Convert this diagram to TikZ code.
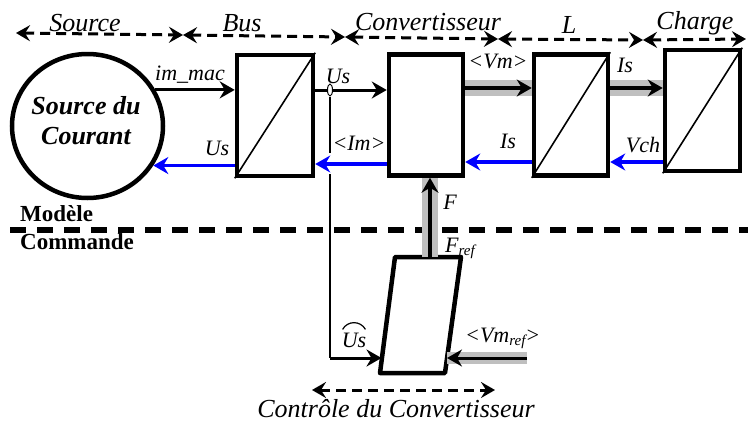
\documentclass[tikz,border=0pt]{standalone}
\usepackage{fontspec}
\setmainfont{Liberation Serif}
\usetikzlibrary{arrows.meta,shapes.geometric,calc}
\newcommand\lowsub[1]{\raisebox{-0.35ex}{\fontsize{15}{15}\selectfont #1}}
\begin{document}
\begin{tikzpicture}[x=1pt,y=-1pt,
  blk/.style={draw,line width=4.5pt,inner sep=0pt,minimum width=75pt,minimum height=121pt},
  diag/.style={line width=1.6pt},
  tip/.style={-{Stealth[length=15pt,width=17pt,inset=5pt]}},
  sig/.style={tip,line width=3pt},
  bsig/.style={tip,line width=3.5pt,blue},
  band/.style={line width=16pt,black!25},
  topdash/.style={dash pattern=on 10pt off 6pt,line width=3pt,
     {Stealth[length=14pt,width=16pt,inset=5pt]}-{Stealth[length=14pt,width=16pt,inset=5pt]}},
  lab/.style={anchor=base,inner sep=0pt,font=\fontsize{22}{22}\selectfont\itshape},
  toplab/.style={anchor=base,inner sep=0pt,font=\fontsize{26}{26}\selectfont\itshape},
  boldlab/.style={anchor=base west,inner sep=0pt,font=\fontsize{23}{23}\selectfont\bfseries}
]
\useasboundingbox (0,0) rectangle (748,426);

% ---------- top dashed ranges ----------
\coordinate (t0) at (16,33);
\coordinate (t1) at (183,35);
\coordinate (t2) at (345,37);
\coordinate (t3) at (498,39);
\coordinate (t4) at (643,40);
\coordinate (t5) at (746,39);
\draw[topdash] (t0) -- (t1);
\draw[topdash] (t1) -- (t2);
\draw[topdash] (t2) -- (t3);
\draw[topdash] (t3) -- (t4);
\draw[topdash] (t4) -- (t5);
\node[toplab] (lsource) at (85,31) {Source};
\node[toplab] (lbus) at (242,31) {Bus};
\node[toplab] (lconv) at (428,30) {Convertisseur};
\node[toplab] (lL) at (569,33) {L};
\node[toplab] (lcharge) at (695,29) {Charge};

% ---------- source ellipse ----------
\node[ellipse,draw,line width=4.5pt,inner sep=0pt,minimum width=151pt,minimum height=144pt] (src) at (87.5,126) {};
\node[align=center,inner sep=0pt,font=\fontsize{26}{30}\selectfont\bfseries\itshape] (srctxt) at (86,121)
      {Source du\\Courant};

% ---------- blocks ----------
\node[blk,minimum width=76pt] (bus) at (275,115.5) {};
\node[blk,minimum width=74pt] (conv) at (426,115) {};
\node[blk,minimum width=74pt] (lblk) at (571,115) {};
\node[blk] (chg) at (702.5,110.5) {};
\draw[diag] (bus.south west) -- (bus.north east);
\draw[diag] (lblk.south west) -- (lblk.north east);
\draw[diag] (chg.south west) -- (chg.north east);

% ---------- control block (slanted) ----------
\coordinate (p1) at (395,257);
\coordinate (p2) at (461,257);
\coordinate (p3) at (445,373);
\coordinate (p4) at (380,373);
\draw[line width=4.5pt,line join=round] (p1) -- (p2) -- (p3) -- (p4) -- cycle;
\coordinate (pin) at (381.5,358);
\coordinate (pvin) at (447,358);
\coordinate (ptop) at (430,257);

% ---------- model / command separator ----------
\coordinate (sepL) at (10,230);
\coordinate (sepR) at (748,230);
\draw[line width=5.5pt,dash pattern=on 16pt off 11pt] (sepL) -- (sepR);
\node[boldlab] (mod) at (20,221) {Modèle};
\node[boldlab] (cmd) at (20,249) {Commande};

% ---------- signals upper ----------
\draw[sig] (src.28) -- (src.28 -| bus.west);
\node[lab] (limmac) at (190,80) {im\_mac};
\draw[bsig] (src.-31 -| bus.west) -- (src.-31);
\node[lab] (lus1) at (217,155) {Us};

\coordinate (ytop) at (0,90);
\draw[sig] (bus.east |- ytop) -- (conv.west |- ytop);
\node[lab] (lus2) at (338,83) {Us};
\node[draw,ellipse,line width=1pt,inner sep=0pt,minimum width=5pt,minimum height=12pt,fill=white] (tap) at (330,90) {};

\coordinate (ybot) at (0,164);
\draw[bsig] (conv.west |- ybot) -- (bus.east |- ybot);
\node[lab] (lim) at (359,150) {<Im>};

\coordinate (yvm) at (0,88);
\draw[band] (conv.east |- yvm) -- (lblk.west |- yvm);
\draw[sig,line width=4pt] (conv.east |- yvm) -- (lblk.west |- yvm);
\node[lab] (lvm) at (498,68) {<Vm>};
\draw[band] (lblk.east |- yvm) -- (chg.west |- yvm);
\draw[sig,line width=4pt] (lblk.east |- yvm) -- (chg.west |- yvm);
\node[lab] (lis1) at (625,72) {Is};

\coordinate (yb2) at (0,162);
\draw[bsig] (lblk.west |- yb2) -- (conv.east |- yb2);
\node[lab] (lis2) at (508,148) {Is};
\draw[bsig] (chg.west |- yb2) -- (lblk.east |- yb2);
\node[lab] (lvch) at (643,152) {Vch};

% ---------- F ----------
\draw[band] (ptop) -- (ptop |- conv.south);
\draw[sig,line width=3.5pt] (ptop) -- (ptop |- conv.south);
\node[lab] (lf) at (450,209) {F};
\node[lab,anchor=base west] (lfref) at (445,252) {F\lowsub{ref}};

% ---------- feedback Us ----------
\coordinate (c1) at (330,153);
\coordinate (c2) at (330,174);
\coordinate (corner) at (330,358);
\draw[line width=1.5pt] (tap.south) -- (c1);
\draw[line width=1.5pt] (c2) -- (corner);
\draw[sig] (corner) -- (pin);
\node[lab] (lush) at (354,347) {Us};
\draw[line width=1.2pt] ($(lush.north west)+(1,-3)$) .. controls ($(lush.north west)+(6,-12)$) and ($(lush.north east)+(-6,-12)$) .. ($(lush.north east)+(-1,-3)$);

% ---------- Vm ref ----------
\coordinate (vref) at (527,358);
\draw[line width=12pt,black!25] (vref) -- (pvin);
\draw[sig] (vref) -- (pvin);
\node[lab,anchor=base west] (lvmref) at (465,342) {<Vm\lowsub{ref}>};

% ---------- bottom range ----------
\coordinate (b1) at (312,390);
\coordinate (b2) at (495,390);
\draw[topdash] (b1) -- (b2);
\node[toplab] (lctrl) at (396,417) {Contrôle du Convertisseur};
\end{tikzpicture}
\end{document}
